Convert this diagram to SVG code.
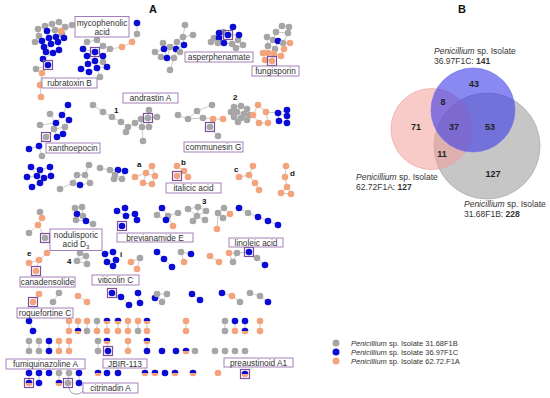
<svg xmlns="http://www.w3.org/2000/svg" xmlns:xlink="http://www.w3.org/1999/xlink" width="550" height="398" viewBox="0 0 550 398">
<style>
.e{fill:none;stroke:#c4c4c4;stroke-width:0.9}
.lb{fill:#fff;stroke:#9b72b0;stroke-width:0.9}
.hl{fill:none;stroke:#7e4f9c;stroke-width:1.2}
.lt{font-family:"Liberation Sans",Arial,sans-serif;font-size:8.3px;fill:#333;text-anchor:middle}
.tag{font-family:"Liberation Sans",Arial,sans-serif;font-size:8px;font-weight:bold;fill:#111}
.vt{font-family:"Liberation Sans",Arial,sans-serif;font-size:8.5px;fill:#333}
.vn{font-family:"Liberation Sans",Arial,sans-serif;font-size:9px;font-weight:bold;fill:#222;text-anchor:middle}
.pl{font-family:"Liberation Sans",Arial,sans-serif;font-size:11px;font-weight:bold;fill:#111;text-anchor:middle}
.lg{font-family:"Liberation Sans",Arial,sans-serif;font-size:7.5px;fill:#333}
</style>
<defs>
<circle id="G" r="3.3" fill="#a6a6a6"/>
<circle id="B" r="3.3" fill="#0b0bd6"/>
<circle id="O" r="3.3" fill="#f3a47c"/>
<g id="H"><circle r="3.3" fill="#f3a47c"/><path d="M-3.3,0A3.3,3.3 0 0 1 3.3,0Z" fill="#0b0bd6"/></g>
</defs>
<rect width="550" height="398" fill="#fff"/>

<text class="pl" x="153" y="13">A</text>
<text class="pl" x="462" y="13">B</text>

<g id="connectors">
<path class="e" d="M38,29L45,26L52,24L59,22L65,27L72,25M38,29L39,36L42,41M45,26L47,31L55,30L52,24M55,30L56,37L49,38L47,31M49,38L42,41L44,47L51,44L49,38M51,44L58,42L56,37M58,42L64,38L62,34L65,27M62,34L61,31L55,30M35,42L39,36M35,42L42,41M51,44L46,52L53,53L59,50L58,42M44,47L46,52M53,53L43,59L48,65L36,69M48,65L42,73L40,85L41,97M72,25L62,34"/>
<path class="e" d="M87,42L97,40L103,46L110,49M87,42L83,49L95,52L103,46M95,52L87,56L83,49M95,52L103,56L110,49M103,56L103,62M87,56L95,61L95,52M95,61L88,64L81,69L89,72L97,68L95,61M97,68L107,67L103,62M97,68L100,77M88,64L87,56M110,49L122,47L132,42L137,34L137,23"/>
<path class="e" d="M185,25L183,37L193,35M183,37L177,42M183,37L184,45L176,49L177,42M177,42L170,47L163,43L164,49L170,47M164,49L155,52L161,57L167,58L174,58L176,49M167,58L164,49M170,47L167,58M174,58L170,70M176,49L180,52L184,45"/>
<path class="e" d="M233,27L228,35L223,32L219,33L214,38L211,42L218,43L219,38L228,35L224,43L218,43M224,43L232,44L238,40L239,35L228,35M238,40L243,45L236,48L232,44M219,38L214,38"/>
<path class="e" d="M282,26L289,27L288,33L276,32L282,26M276,32L273,40L267,37L268,46L273,40L278,41L283,43L288,33M283,43L290,43M283,43L284,49L281,56M278,41L275,49L268,53L263,53L265,60L272,61L274,54L268,53M274,54L281,56M268,46L263,53M275,49L274,54"/>
<path class="e" d="M93,105L103,112L112,117L121,122L128,127L135,123L141,119L148,118L157,117M148,118L149,110M141,119L142,127L149,127L148,118M128,127L126,132M142,127L143,141"/>
<path class="e" d="M178,115L188,119L197,111L212,105M197,111L203,118L188,119M203,118L213,119L223,119M213,119L210,127L218,136"/>
<path class="e" d="M234,107L241,106L247,109M231,112L237,112L244,114L250,115M234,117L241,118L247,120M238,122L241,118M237,112L241,106M234,107L231,112M237,112L234,117M244,114L241,118"/>
<path class="e" d="M258,105L266,112L268,123L259,123L253,115L258,105M266,112L278,113L287,110L287,116L278,113L279,121L287,123L287,116"/>
<path class="e" d="M68,105L62,115L69,120M50,114L56,123L62,115M56,123L40,125M56,123L54,129L65,127L69,120M65,127L63,134L57,137L54,129M54,129L46,137L39,146L29,149M39,146L42,156"/>
<path class="e" d="M31,167L40,170L50,167L51,176L44,178L40,170L37,176L31,167M27,177L37,176L40,183L32,187M44,178L40,183"/>
<path class="e" d="M89,165L85,175L77,175L73,183L60,189M85,175L90,183L80,185L73,183"/>
<path class="e" d="M100,168L110,170L118,170L125,171L122,179L114,179L115,175L110,170M115,175L118,170M115,175L122,179"/>
<path class="e" d="M152,166L146,173L135,177M146,173L155,176L152,166M146,173L143,183L152,184L155,176"/>
<path class="e" d="M177,166L184,171L188,177M184,171L177,176"/>
<path class="e" d="M253,166L249,175L239,177M249,175L255,183L259,190"/>
<path class="e" d="M286,166L285,177L287,187L281,193L291,194L287,187"/>
<path class="e" d="M40,212L42,218L38,225L29,233M38,225L45,238"/>
<path class="e" d="M75,208L82,207L83,216L86,221L93,224M75,208L77,214L83,216M77,214L76,220L86,221"/>
<path class="e" d="M117,211L126,216L125,208M126,216L135,214L137,220"/>
<path class="e" d="M162,208L157,215L166,220L168,216L162,208M168,216L178,213M168,216L173,226"/>
<path class="e" d="M188,209L198,207L206,211L197,216L198,207M188,209L197,216L205,220M197,216L193,221"/>
<path class="e" d="M218,213L224,208L230,214L223,218L218,213L217,229"/>
<path class="e" d="M239,208L248,213L258,217L268,221L278,225"/>
<path class="e" d="M47,253L39,260L29,263M39,260L36,271"/>
<path class="e" d="M80,253L86,256L87,264L77,261L80,253M77,261L86,256"/>
<path class="e" d="M105,254L113,252L116,260L107,262L105,254M107,262L113,266L116,260"/>
<path class="e" d="M131,262L140,258L137,269M157,252L164,259L172,267M181,252L191,254M181,252L184,262M210,256L219,262"/>
<path class="e" d="M229,253L237,253L233,262L229,253M237,253L249,252L257,258L265,265"/>
<path class="e" d="M39,294L33,302M59,293L53,302M78,296L87,302M112,293L121,297L129,305M138,293L140,303M157,294L167,294L162,302L157,294M192,294L200,300M222,293L232,296L240,302M250,293L260,296L268,302"/>
<path class="e" d="M29,321L33,331M69,321L69,331M78,321L78,331M87,321L87,331M97,321L97,331M107,321L107,331M118,321L118,331M128,321L128,331M138,321L138,331M147,321L147,331M186,321L186,331M225,321L225,331M235,321L235,331M245,321L245,331M260,321L260,331"/>
<path class="e" d="M29,341L29,351M39,341L39,351M49,341L49,351M59,341L59,351M69,341L69,351M98,341L98,351M107,341L108,351M128,341L128,351M147,341L147,351"/>
<path class="e" d="M29,373L29,383M39,373L39,383M59,373L59,383M69,373L68,383M79,373L79,383"/>
<path d="M69,388C70,395 79,396 83,391" fill="none" stroke="#888" stroke-width="0.8"/>
</g>

<g id="cluster-mycophenolic-left">
<use href="#G" x="38" y="29"/><use href="#G" x="45" y="26"/><use href="#G" x="52" y="24"/><use href="#G" x="59" y="22"/><use href="#G" x="65" y="27"/><use href="#G" x="72" y="25"/><use href="#G" x="39" y="36"/><use href="#G" x="55" y="30"/><use href="#G" x="35" y="42"/><use href="#G" x="62" y="34"/>
<use href="#B" x="47" y="31"/><use href="#B" x="42" y="41"/><use href="#B" x="49" y="38"/><use href="#B" x="56" y="37"/><use href="#B" x="44" y="47"/><use href="#B" x="51" y="44"/><use href="#B" x="58" y="42"/><use href="#B" x="64" y="38"/><use href="#B" x="59" y="50"/><use href="#B" x="53" y="53"/><use href="#B" x="46" y="52"/>
<use href="#O" x="61" y="31"/><use href="#B" x="43" y="59"/><use href="#B" x="48" y="65"/><use href="#G" x="36" y="69"/><use href="#O" x="42" y="73"/><use href="#O" x="40" y="85"/><use href="#O" x="41" y="97"/>
<rect class="hl" x="43.5" y="60.5" width="9" height="9"/>
</g>
<g id="cluster-mycophenolic">
<use href="#G" x="87" y="42"/><use href="#G" x="97" y="40"/><use href="#G" x="103" y="46"/><use href="#G" x="110" y="49"/><use href="#G" x="103" y="62"/><use href="#G" x="100" y="77"/>
<use href="#B" x="83" y="49"/><use href="#B" x="95" y="52"/><use href="#B" x="87" y="56"/><use href="#B" x="95" y="61"/><use href="#B" x="88" y="64"/><use href="#B" x="81" y="69"/><use href="#B" x="89" y="72"/><use href="#B" x="97" y="68"/><use href="#B" x="107" y="67"/><use href="#B" x="103" y="56"/>
<use href="#O" x="122" y="47"/><use href="#O" x="132" y="42"/><use href="#G" x="137" y="34"/><use href="#B" x="137" y="23"/>
<rect class="hl" x="90.5" y="47.5" width="9" height="9"/>
</g>
<g id="cluster-3">
<use href="#G" x="185" y="25"/><use href="#G" x="193" y="35"/><use href="#G" x="183" y="37"/><use href="#B" x="184" y="45"/><use href="#G" x="177" y="42"/><use href="#B" x="176" y="49"/><use href="#G" x="170" y="47"/><use href="#G" x="163" y="43"/><use href="#B" x="164" y="49"/><use href="#G" x="155" y="52"/><use href="#G" x="161" y="57"/><use href="#B" x="167" y="58"/><use href="#G" x="174" y="58"/><use href="#G" x="170" y="70"/><use href="#G" x="180" y="52"/>
</g>
<g id="cluster-asperphenamate">
<use href="#B" x="233" y="27"/><use href="#G" x="223" y="32"/><use href="#B" x="219" y="33"/><use href="#B" x="228" y="35"/><use href="#G" x="214" y="38"/><use href="#B" x="219" y="38"/><use href="#G" x="211" y="42"/><use href="#G" x="218" y="43"/><use href="#B" x="224" y="43"/><use href="#G" x="232" y="44"/><use href="#G" x="238" y="40"/><use href="#B" x="239" y="35"/><use href="#G" x="243" y="45"/><use href="#G" x="236" y="48"/>
<rect class="hl" x="223.5" y="30.5" width="9" height="9"/>
</g>
<g id="cluster-fungisporin">
<use href="#G" x="282" y="26"/><use href="#G" x="289" y="27"/><use href="#G" x="276" y="32"/><use href="#G" x="288" y="33"/><use href="#G" x="267" y="37"/><use href="#G" x="273" y="40"/><use href="#B" x="278" y="41"/><use href="#G" x="283" y="43"/><use href="#G" x="268" y="46"/><use href="#O" x="290" y="43"/><use href="#O" x="284" y="49"/><use href="#G" x="275" y="49"/><use href="#O" x="263" y="53"/><use href="#O" x="268" y="53"/><use href="#O" x="274" y="54"/><use href="#O" x="265" y="60"/><use href="#O" x="272" y="61"/><use href="#O" x="281" y="56"/>
<rect class="hl" x="267.5" y="56.5" width="9" height="9"/>
</g>
<g id="cluster-andrastin">
<use href="#G" x="93" y="105"/><use href="#G" x="103" y="112"/><use href="#G" x="112" y="117"/><use href="#G" x="121" y="122"/><use href="#G" x="128" y="127"/><use href="#G" x="135" y="123"/><use href="#G" x="141" y="119"/><use href="#G" x="148" y="118"/><use href="#G" x="157" y="117"/><use href="#G" x="149" y="110"/><use href="#G" x="142" y="127"/><use href="#G" x="149" y="127"/><use href="#G" x="126" y="132"/><use href="#G" x="143" y="141"/>
<rect class="hl" x="143.5" y="113.5" width="9" height="9"/>
<text class="tag" x="114" y="113">1</text>
</g>
<g id="cluster-communesin">
<use href="#G" x="178" y="115"/><use href="#G" x="188" y="119"/><use href="#G" x="197" y="111"/><use href="#G" x="212" y="105"/><use href="#G" x="203" y="118"/><use href="#O" x="213" y="119"/><use href="#O" x="223" y="119"/><use href="#G" x="210" y="127"/><use href="#G" x="218" y="136"/>
<rect class="hl" x="205.5" y="122.5" width="9" height="9"/>
</g>
<g id="cluster-2">
<use href="#G" x="234" y="107"/><use href="#G" x="241" y="106"/><use href="#G" x="247" y="109"/><use href="#G" x="231" y="112"/><use href="#G" x="237" y="112"/><use href="#G" x="244" y="114"/><use href="#G" x="250" y="115"/><use href="#G" x="234" y="117"/><use href="#G" x="241" y="118"/><use href="#G" x="247" y="120"/><use href="#G" x="238" y="122"/>
<text class="tag" x="233" y="100">2</text>
</g>
<g id="cluster-ring">
<use href="#O" x="258" y="105"/><use href="#O" x="266" y="112"/><use href="#O" x="253" y="115"/><use href="#O" x="259" y="123"/><use href="#O" x="268" y="123"/>
<use href="#B" x="278" y="113"/><use href="#B" x="287" y="110"/><use href="#B" x="287" y="116"/><use href="#B" x="279" y="121"/><use href="#B" x="287" y="123"/>
</g>
<g id="cluster-xanthoepocin">
<use href="#B" x="68" y="105"/><use href="#G" x="50" y="114"/><use href="#B" x="62" y="115"/><use href="#B" x="69" y="120"/><use href="#B" x="56" y="123"/><use href="#G" x="40" y="125"/><use href="#G" x="54" y="129"/><use href="#G" x="65" y="127"/><use href="#B" x="63" y="134"/><use href="#B" x="57" y="137"/><use href="#G" x="46" y="137"/><use href="#B" x="39" y="146"/><use href="#B" x="29" y="149"/><use href="#G" x="42" y="156"/>
<rect class="hl" x="41.5" y="132.5" width="9" height="9"/>
</g>
<g id="cluster-blue-grid">
<use href="#B" x="31" y="167"/><use href="#B" x="40" y="170"/><use href="#B" x="50" y="167"/><use href="#B" x="27" y="177"/><use href="#B" x="37" y="176"/><use href="#B" x="44" y="178"/><use href="#B" x="51" y="176"/><use href="#B" x="40" y="183"/><use href="#B" x="32" y="187"/>
</g>
<g id="cluster-gray-chain">
<use href="#G" x="89" y="165"/><use href="#G" x="85" y="175"/><use href="#G" x="77" y="175"/><use href="#G" x="73" y="183"/><use href="#G" x="60" y="189"/><use href="#G" x="90" y="183"/><use href="#B" x="80" y="185"/>
</g>
<g id="cluster-mixed">
<use href="#G" x="100" y="168"/><use href="#G" x="110" y="170"/><use href="#B" x="118" y="170"/><use href="#B" x="125" y="171"/><use href="#G" x="115" y="175"/><use href="#G" x="122" y="179"/><use href="#G" x="114" y="179"/>
</g>
<g id="cluster-a">
<use href="#O" x="152" y="166"/><use href="#O" x="146" y="173"/><use href="#O" x="135" y="177"/><use href="#O" x="155" y="176"/><use href="#O" x="143" y="183"/><use href="#O" x="152" y="184"/>
<text class="tag" x="137" y="167">a</text>
</g>
<g id="cluster-b">
<use href="#O" x="177" y="166"/><use href="#O" x="184" y="171"/><use href="#O" x="188" y="177"/><use href="#O" x="177" y="176"/>
<rect class="hl" x="172.5" y="171.5" width="9" height="9"/>
<text class="tag" x="181" y="165">b</text>
</g>
<g id="cluster-c">
<use href="#O" x="253" y="166"/><use href="#O" x="249" y="175"/><use href="#O" x="239" y="177"/><use href="#O" x="255" y="183"/><use href="#O" x="259" y="190"/>
<text class="tag" x="234" y="172">c</text>
</g>
<g id="cluster-d">
<use href="#O" x="286" y="166"/><use href="#O" x="285" y="177"/><use href="#O" x="287" y="187"/><use href="#O" x="281" y="193"/><use href="#O" x="291" y="194"/>
<text class="tag" x="290" y="176">d</text>
</g>
<g id="cluster-nodulisporic">
<use href="#G" x="40" y="212"/><use href="#O" x="42" y="218"/><use href="#O" x="38" y="225"/><use href="#G" x="29" y="233"/><use href="#G" x="45" y="238"/>
<rect class="hl" x="40.5" y="233.5" width="9" height="9"/>
</g>
<g id="cluster-gb">
<use href="#G" x="75" y="208"/><use href="#G" x="82" y="207"/><use href="#B" x="77" y="214"/><use href="#G" x="83" y="216"/><use href="#G" x="76" y="220"/><use href="#B" x="86" y="221"/><use href="#G" x="93" y="224"/>
</g>
<g id="cluster-brevianamide">
<use href="#B" x="117" y="211"/><use href="#B" x="125" y="208"/><use href="#B" x="126" y="216"/><use href="#B" x="135" y="214"/><use href="#B" x="137" y="220"/><use href="#B" x="122" y="226"/>
<rect class="hl" x="117.5" y="221.5" width="9" height="9"/>
</g>
<g id="cluster-bg2">
<use href="#B" x="162" y="208"/><use href="#G" x="157" y="215"/><use href="#G" x="168" y="216"/><use href="#B" x="166" y="220"/><use href="#G" x="178" y="213"/><use href="#O" x="173" y="226"/>
</g>
<g id="cluster-3b">
<use href="#G" x="188" y="209"/><use href="#G" x="198" y="207"/><use href="#G" x="206" y="211"/><use href="#G" x="197" y="216"/><use href="#G" x="205" y="220"/><use href="#G" x="193" y="221"/>
<text class="tag" x="202" y="204">3</text>
</g>
<g id="cluster-go">
<use href="#G" x="218" y="213"/><use href="#G" x="224" y="208"/><use href="#O" x="230" y="214"/><use href="#G" x="223" y="218"/><use href="#O" x="217" y="229"/>
</g>
<g id="cluster-chain">
<use href="#B" x="239" y="208"/><use href="#G" x="248" y="213"/><use href="#B" x="258" y="217"/><use href="#B" x="268" y="221"/><use href="#B" x="278" y="225"/>
</g>
<g id="cluster-e">
<use href="#O" x="47" y="253"/><use href="#O" x="39" y="260"/><use href="#O" x="29" y="263"/><use href="#O" x="36" y="271"/>
<rect class="hl" x="31.5" y="266.5" width="9" height="9"/>
<text class="tag" x="27" y="256">e</text>
</g>
<g id="cluster-4">
<use href="#G" x="80" y="253"/><use href="#G" x="86" y="256"/><use href="#G" x="77" y="261"/><use href="#G" x="87" y="264"/>
<text class="tag" x="67" y="264">4</text>
</g>
<g id="cluster-i">
<use href="#B" x="105" y="254"/><use href="#B" x="113" y="252"/><use href="#B" x="107" y="262"/><use href="#B" x="116" y="260"/><use href="#B" x="113" y="266"/>
<text class="tag" x="120" y="257">i</text>
</g>
<g id="cluster-small-row4">
<use href="#O" x="131" y="262"/><use href="#G" x="140" y="258"/><use href="#O" x="137" y="269"/>
<use href="#B" x="157" y="252"/><use href="#B" x="164" y="259"/><use href="#B" x="172" y="267"/>
<use href="#G" x="181" y="252"/><use href="#B" x="191" y="254"/><use href="#O" x="184" y="262"/>
<use href="#O" x="210" y="256"/><use href="#O" x="219" y="262"/>
</g>
<g id="cluster-linoleic">
<use href="#O" x="229" y="253"/><use href="#G" x="237" y="253"/><use href="#G" x="233" y="262"/><use href="#B" x="249" y="252"/><use href="#G" x="257" y="258"/><use href="#B" x="265" y="265"/>
<rect class="hl" x="244.5" y="247.5" width="9" height="9"/>
</g>
<g id="cluster-row5">
<use href="#O" x="39" y="294"/><use href="#O" x="33" y="302"/><use href="#G" x="59" y="293"/><use href="#G" x="53" y="302"/><use href="#O" x="78" y="296"/><use href="#O" x="87" y="302"/>
<rect class="hl" x="28.5" y="297.5" width="9" height="9"/>
<use href="#B" x="112" y="293"/><use href="#B" x="121" y="297"/><use href="#B" x="129" y="305"/><use href="#B" x="138" y="293"/><use href="#B" x="140" y="303"/><use href="#B" x="155" y="298"/>
<rect class="hl" x="107.5" y="288.5" width="9" height="9"/>
<use href="#G" x="157" y="294"/><use href="#G" x="167" y="294"/><use href="#G" x="162" y="302"/><use href="#B" x="192" y="294"/><use href="#B" x="200" y="300"/>
<use href="#B" x="222" y="293"/><use href="#O" x="232" y="296"/><use href="#G" x="240" y="302"/><use href="#G" x="250" y="293"/><use href="#G" x="260" y="296"/><use href="#B" x="268" y="302"/>
</g>
<g id="cluster-pairs">
<use href="#B" x="29" y="321"/><use href="#B" x="33" y="331"/>
<use href="#O" x="69" y="321"/><use href="#O" x="69" y="331"/>
<use href="#O" x="78" y="321"/><use href="#H" x="78" y="331"/>
<use href="#O" x="87" y="321"/><use href="#G" x="87" y="331"/>
<use href="#G" x="97" y="321"/><use href="#O" x="97" y="331"/>
<use href="#H" x="107" y="321"/><use href="#O" x="107" y="331"/>
<use href="#H" x="118" y="321"/><use href="#O" x="118" y="331"/>
<use href="#O" x="128" y="321"/><use href="#O" x="128" y="331"/>
<use href="#O" x="138" y="321"/><use href="#G" x="138" y="331"/>
<use href="#H" x="147" y="321"/><use href="#O" x="147" y="331"/>
<use href="#O" x="186" y="321"/><use href="#O" x="186" y="331"/>
<use href="#G" x="225" y="321"/><use href="#G" x="225" y="331"/>
<use href="#B" x="235" y="321"/><use href="#O" x="235" y="331"/>
<use href="#B" x="245" y="321"/><use href="#H" x="245" y="331"/>
<use href="#O" x="260" y="321"/><use href="#O" x="260" y="331"/>
<use href="#G" x="29" y="341"/><use href="#G" x="29" y="351"/>
<use href="#G" x="39" y="341"/><use href="#G" x="39" y="351"/>
<use href="#B" x="49" y="341"/><use href="#B" x="49" y="351"/>
<use href="#O" x="59" y="341"/><use href="#O" x="59" y="351"/>
<use href="#O" x="69" y="341"/><use href="#O" x="69" y="351"/>
<use href="#G" x="98" y="341"/><use href="#G" x="98" y="351"/>
<use href="#H" x="107" y="341"/><use href="#B" x="108" y="351"/>
<rect class="hl" x="103.5" y="346.5" width="9" height="9"/>
<use href="#O" x="128" y="341"/><use href="#O" x="128" y="351"/>
<use href="#H" x="147" y="341"/><use href="#B" x="147" y="351"/>
<use href="#B" x="162" y="351"/><use href="#B" x="176" y="351"/><use href="#H" x="186" y="351"/><use href="#G" x="195" y="351"/><use href="#G" x="215" y="351"/><use href="#G" x="225" y="351"/><use href="#G" x="235" y="351"/><use href="#G" x="245" y="351"/>
<use href="#B" x="29" y="373"/><use href="#B" x="39" y="373"/><use href="#B" x="49" y="373"/><use href="#G" x="59" y="373"/><use href="#G" x="69" y="373"/><use href="#B" x="79" y="373"/>
<use href="#H" x="98" y="373"/><use href="#B" x="107" y="373"/><use href="#B" x="118" y="373"/><use href="#H" x="145" y="373"/><use href="#H" x="155" y="373"/><use href="#B" x="165" y="373"/><use href="#H" x="175" y="373"/><use href="#H" x="193" y="373"/><use href="#O" x="218" y="373"/><use href="#H" x="245" y="374"/>
<rect class="hl" x="240.5" y="369.5" width="9" height="9"/>
<use href="#H" x="29" y="383"/><use href="#B" x="39" y="383"/><use href="#H" x="59" y="383"/><use href="#G" x="68" y="383"/><use href="#B" x="79" y="383"/>
<rect class="hl" x="24.5" y="378.5" width="9" height="9"/>
<rect class="hl" x="63.5" y="378.5" width="9" height="9"/>
</g>

<g id="labels">
<rect class="lb" x="75" y="16.5" width="54" height="20.5"/>
<text class="lt" x="102" y="25.5">mycophenolic</text><text class="lt" x="102" y="34.8">acid</text>
<rect class="lb" x="42" y="78" width="55" height="10"/><text class="lt" x="69.5" y="86">rubratoxin B</text>
<rect class="lb" x="185" y="52" width="68" height="10"/><text class="lt" x="219" y="60">asperphenamate</text>
<rect class="lb" x="252" y="66" width="47" height="10"/><text class="lt" x="275.5" y="74">fungisporin</text>
<rect class="lb" x="123" y="93" width="55" height="10"/><text class="lt" x="150.5" y="101">andrastin A</text>
<rect class="lb" x="184" y="142" width="59" height="10"/><text class="lt" x="213.5" y="150">communesin G</text>
<rect class="lb" x="46" y="143" width="54" height="10"/><text class="lt" x="73" y="151">xanthoepocin</text>
<rect class="lb" x="166" y="183" width="55" height="10"/><text class="lt" x="193.5" y="191">italicic acid</text>
<rect class="lb" x="50" y="229" width="52" height="21.5"/>
<text class="lt" x="76" y="237.5">nodulisporic</text><text class="lt" x="76" y="247">acid D<tspan font-size="6px" dy="1.5">3</tspan></text>
<rect class="lb" x="117" y="233" width="76" height="9"/><text class="lt" x="155" y="240.5">brevianamide E</text>
<rect class="lb" x="229" y="238" width="54" height="9"/><text class="lt" x="256" y="245.5">linoleic acid</text>
<rect class="lb" x="20" y="277" width="55" height="10"/><text class="lt" x="47.5" y="285">canadensolide</text>
<rect class="lb" x="92" y="275" width="47" height="10"/><text class="lt" x="115.5" y="283">viticolin C</text>
<rect class="lb" x="17" y="308" width="56" height="10"/><text class="lt" x="45" y="316">roquefortine C</text>
<rect class="lb" x="6" y="359" width="79" height="10"/><text class="lt" x="45.5" y="367">fumiquinazoline A</text>
<rect class="lb" x="103" y="359" width="44" height="9"/><text class="lt" x="125" y="366.5">JBIR-113</text>
<rect class="lb" x="224" y="358" width="69" height="9"/><text class="lt" x="258.5" y="365.5">preaustinoid A1</text>
<rect class="lb" x="83" y="383" width="55" height="10"/><text class="lt" x="110.5" y="391">citrinadin A</text>
</g>

<g id="venn">
<circle cx="487" cy="146" r="53" fill="#a0a0a0" fill-opacity="0.6" stroke="#a0a0a0" stroke-width="0.6"/>
<circle cx="431.5" cy="129" r="40.5" fill="#f4a09a" fill-opacity="0.55" stroke="#e89a98" stroke-width="0.6"/>
<circle cx="473" cy="110" r="42" fill="#3a3ae8" fill-opacity="0.6" stroke="#6a6af0" stroke-width="0.6"/>
<text class="vn" x="474" y="87">43</text>
<text class="vn" x="443" y="105">8</text>
<text class="vn" x="416" y="130">71</text>
<text class="vn" x="454" y="130">37</text>
<text class="vn" x="490" y="130">53</text>
<text class="vn" x="442" y="157">11</text>
<text class="vn" x="493" y="177">127</text>
<text class="vt" x="434" y="54"><tspan font-style="italic">Penicillium</tspan> sp. Isolate</text>
<text class="vt" x="434" y="64">36.97F1C: <tspan font-weight="bold">141</tspan></text>
<text class="vt" x="356" y="180"><tspan font-style="italic">Penicillium</tspan> sp. Isolate</text>
<text class="vt" x="356" y="190">62.72F1A: <tspan font-weight="bold">127</tspan></text>
<text class="vt" x="464" y="207"><tspan font-style="italic">Penicillium</tspan> sp. Isolate</text>
<text class="vt" x="464" y="217">31.68F1B: <tspan font-weight="bold">228</tspan></text>
</g>

<g id="legend">
<circle cx="336" cy="343" r="3.5" fill="#a6a6a6"/>
<circle cx="336" cy="352" r="3.5" fill="#0b0bd6"/>
<circle cx="336" cy="361" r="3.5" fill="#f3a47c"/>
<text class="lg" x="351" y="346"><tspan font-style="italic">Penicillium</tspan> sp. Isolate 31.68F1B</text>
<text class="lg" x="351" y="355"><tspan font-style="italic">Penicillium</tspan> sp. Isolate 36.97F1C</text>
<text class="lg" x="351" y="364"><tspan font-style="italic">Penicillium</tspan> sp. Isolate 62.72.F1A</text>
</g>
</svg>
